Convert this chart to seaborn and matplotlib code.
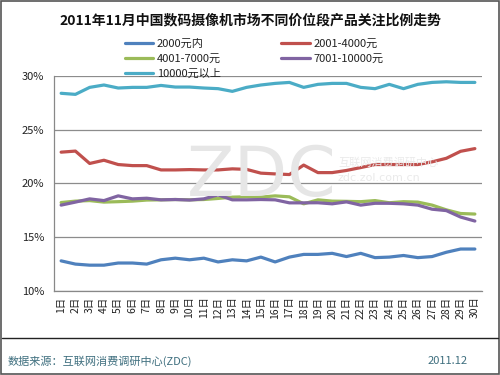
import matplotlib
matplotlib.use("Agg")
import matplotlib.pyplot as plt
import seaborn as sns
import pandas as pd
from matplotlib.patches import Rectangle
from matplotlib.lines import Line2D

days = [f"{i}日" for i in range(1, 31)]
series_names = ["2000元内", "2001-4000元", "4001-7000元", "7001-10000元", "10000元以上"]

s_2000 = [12.8, 12.5, 12.4, 12.4, 12.6, 12.6, 12.5, 12.9, 13.05, 12.9,
          13.05, 12.7, 12.9, 12.8, 13.15, 12.7, 13.15, 13.4, 13.4, 13.5,
          13.2, 13.5, 13.1, 13.15, 13.3, 13.1, 13.2, 13.6, 13.9, 13.9]
s_4000 = [22.9, 23.0, 21.85, 22.15, 21.75, 21.65, 21.65, 21.25, 21.25, 21.28,
          21.25, 21.25, 21.35, 21.3, 20.95, 20.88, 20.82, 21.7, 21.0, 21.0,
          21.2, 21.47, 21.75, 21.75, 21.75, 21.75, 22.0, 22.33, 22.98, 23.23]
s_7000 = [18.22, 18.35, 18.4, 18.26, 18.3, 18.35, 18.45, 18.47, 18.5, 18.47,
          18.5, 18.6, 18.72, 18.75, 18.72, 18.84, 18.75, 18.1, 18.47, 18.35,
          18.33, 18.3, 18.4, 18.2, 18.3, 18.26, 17.98, 17.54, 17.2, 17.15]
s_10000 = [17.98, 18.26, 18.56, 18.4, 18.84, 18.56, 18.62, 18.47, 18.5, 18.45,
           18.56, 18.93, 18.47, 18.47, 18.5, 18.47, 18.19, 18.19, 18.2, 18.1,
           18.28, 17.98, 18.15, 18.15, 18.1, 17.98, 17.6, 17.47, 16.87, 16.5]
s_above = [28.37, 28.27, 28.92, 29.14, 28.86, 28.92, 28.92, 29.1, 28.95, 28.95,
           28.86, 28.8, 28.55, 28.92, 29.14, 29.29, 29.38, 28.92, 29.2, 29.29,
           29.29, 28.92, 28.8, 29.2, 28.8, 29.2, 29.38, 29.44, 29.38, 29.38]

colors = ["#4F81BD", "#C0504D", "#9BBB59", "#8064A2", "#4BACC6"]
yticks = [10, 15, 20, 25, 30]
ytick_labels = [f"{v}%" for v in yticks]

all_series = [s_2000, s_4000, s_7000, s_10000, s_above]
rows = []
for name, vals in zip(series_names, all_series):
    for i, (d, v) in enumerate(zip(days, vals)):
        rows.append({"pos": i, "day": d, "series": name, "value": v})
df = pd.DataFrame(rows)

sns.set_style("white")
plt.rcParams["font.family"] = ["Noto Sans CJK SC", "DejaVu Sans"]

fig = plt.figure(figsize=(5, 3.75), dpi=100)
ax = fig.add_axes([0.108, 0.224, 0.856, 0.574])

sns.lineplot(data=df, x="pos", y="value", hue="series", hue_order=series_names,
             palette=colors, linewidth=2.3, ax=ax, legend=False, zorder=3)

ax.set_xlim(-0.5, 29.5)
ax.set_ylim(10, 30)
ax.set_yticks(yticks)
ax.set_yticklabels(ytick_labels, fontsize=8, color="#222222")
ax.set_xticks(range(30))
ax.set_xticklabels(days, rotation=90, fontsize=7.5, color="#222222", va="top", ha="center")
ax.set_xticks([x - 0.5 for x in range(31)], minor=True)
ax.tick_params(axis="x", which="major", length=0, pad=4)
ax.tick_params(axis="x", which="minor", length=4, color="#888888", width=0.8, direction="out")
ax.tick_params(axis="y", which="major", length=4, color="#888888", width=0.8, direction="out", pad=3)
ax.set_xlabel("")
ax.set_ylabel("")
ax.grid(axis="y", color="#8c8c8c", linewidth=0.9, zorder=0)
ax.grid(axis="x", visible=False)
for sp in ["top", "right"]:
    ax.spines[sp].set_visible(False)
for sp in ["left", "bottom"]:
    ax.spines[sp].set_color("#888888")
    ax.spines[sp].set_linewidth(0.9)

# faint watermark
fig.text(262 / 500, 1 - 176 / 375, "ZDC", fontsize=50, color="#e6e6e6",
         ha="center", va="center", zorder=1, family="DejaVu Sans")
fig.text(338 / 500, 1 - 163 / 375, "互联网消费调研中心", fontsize=8, color="#eaeaea",
         ha="left", va="center", zorder=1)
fig.text(338 / 500, 1 - 178 / 375, "zdc.zol.com.cn", fontsize=8, color="#eaeaea",
         ha="left", va="center", zorder=1, family="DejaVu Sans")

fig.text(0.5, 0.947, "2011年11月中国数码摄像机市场不同价位段产品关注比例走势",
         ha="center", va="center", fontsize=10, fontweight="bold", color="#111111")

handles = [Line2D([0], [0], color=c, lw=2.3) for c in colors]
order = [0, 2, 4, 1, 3]
leg = fig.legend([handles[i] for i in order], [series_names[i] for i in order],
                 ncol=2, loc="upper left", bbox_to_anchor=(0.238, 0.912),
                 frameon=False, fontsize=8, handlelength=2.6, handletextpad=0.3,
                 columnspacing=5.4, labelspacing=0.45, borderpad=0)
for t in leg.get_texts():
    t.set_color("#222222")

# footer separator and texts
fig.add_artist(Line2D([0.004, 0.996], [1 - 338 / 375, 1 - 338 / 375],
                      transform=fig.transFigure, color="#222222", lw=1.0))
fig.text(0.016, 1 - 361 / 375, "数据来源：互联网消费调研中心(ZDC)", ha="left", va="center",
         fontsize=8, color="#3f6f7f")
fig.text(0.935, 1 - 361 / 375, "2011.12", ha="right", va="center",
         fontsize=8, color="#3f6f7f")

# outer border
fig.add_artist(Rectangle((0.002, 0.003), 0.996, 0.994, transform=fig.transFigure,
                         fill=False, edgecolor="#555555", lw=1.2))

fig.savefig("out.png", dpi=100)
